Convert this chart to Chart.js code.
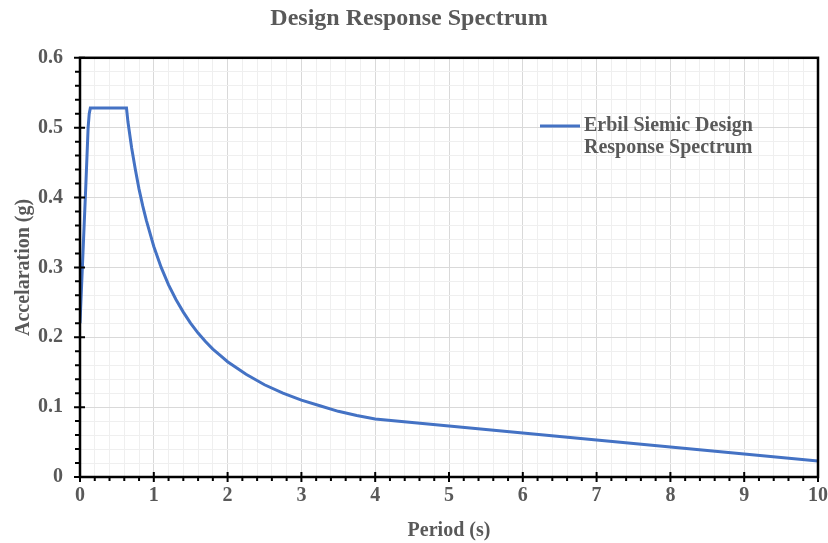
<!DOCTYPE html>
<html>
<head>
<meta charset="utf-8">
<title>Design Response Spectrum</title>
<script src="https://cdn.jsdelivr.net/npm/chart.js@4.4.0/dist/chart.umd.min.js"></script>
<style>
  html, body { margin: 0; padding: 0; background: #fff; }
  #wrap { width: 828px; height: 543px; }
</style>
</head>
<body>
<div id="wrap"><canvas id="spectrum" width="828" height="543"></canvas></div>
<script>
// Spectrum points: period (s) and spectral acceleration (g)
const periods = [0, 0.04, 0.08, 0.11, 0.125, 0.14, 0.63, 0.65, 0.7, 0.75, 0.8, 0.85, 0.9, 1.0, 1.1, 1.2, 1.3, 1.4, 1.5,
                 1.6, 1.7, 1.8, 1.9, 2.0, 2.25, 2.5, 2.75, 3.0, 3.25, 3.5, 3.75, 4.0, 5, 6, 7, 8, 9, 10];
const accels  = [0.22, 0.32, 0.42, 0.50, 0.52, 0.528, 0.528, 0.508, 0.471, 0.44, 0.412, 0.388, 0.367, 0.33, 0.30, 0.275, 0.254, 0.236, 0.22,
                 0.206, 0.194, 0.183, 0.174, 0.165, 0.147, 0.132, 0.12, 0.11, 0.102, 0.094, 0.088, 0.083, 0.073, 0.063, 0.053, 0.043, 0.033, 0.023];
const seriesLabel = ['Erbil Siemic Design', 'Response Spectrum'];
const xTicks = [0, 1, 2, 3, 4, 5, 6, 7, 8, 9, 10];
const yTicks = [0, 0.1, 0.2, 0.3, 0.4, 0.5, 0.6];

const textGray = '#595959';
const serif = '"Liberation Serif", "Times New Roman", serif';

const isMajorX = v => Math.abs(v - Math.round(v)) < 1e-6;
const isMajorY = v => Math.abs(v * 10 - Math.round(v * 10)) < 1e-6;

// Frame, tick marks and the legend box drawn on top of the chart
const framePlugin = {
  id: 'frame',
  afterDraw(chart) {
    const { ctx, chartArea: a, scales } = chart;
    ctx.save();
    ctx.strokeStyle = '#000';
    ctx.lineWidth = 2.5;
    ctx.strokeRect(a.left, a.top, a.right - a.left, a.bottom - a.top);

    ctx.lineWidth = 2;
    ctx.beginPath();
    scales.x.ticks.forEach(t => {
      const px = scales.x.getPixelForValue(t.value);
      const major = isMajorX(t.value);
      ctx.moveTo(px, major ? a.bottom - 5 : a.bottom);
      ctx.lineTo(px, a.bottom + (major ? 5 : 4));
    });
    scales.y.ticks.forEach(t => {
      const py = scales.y.getPixelForValue(t.value);
      const major = isMajorY(t.value);
      ctx.moveTo(major ? a.left + 5 : a.left, py);
      ctx.lineTo(a.left - (major ? 6 : 5), py);
    });
    ctx.stroke();

    // legend
    const ds = chart.data.datasets[0];
    const lx = 540, ly = 126;
    ctx.strokeStyle = ds.borderColor;
    ctx.lineWidth = 3;
    ctx.beginPath();
    ctx.moveTo(lx, ly);
    ctx.lineTo(lx + 40, ly);
    ctx.stroke();
    ctx.fillStyle = textGray;
    ctx.font = 'bold 20px ' + serif;
    ctx.textBaseline = 'middle';
    ctx.textAlign = 'left';
    seriesLabel.forEach((s, i) => ctx.fillText(s, lx + 44, ly + i * 22));
    ctx.restore();
  }
};

const ctx = document.getElementById('spectrum').getContext('2d');
const chart = new Chart(ctx, {
  type: 'line',
  data: {
    datasets: [{
      label: seriesLabel.join(' '),
      data: periods.map((p, i) => ({ x: p, y: accels[i] })),
      borderColor: '#4472C4',
      borderWidth: 3,
      pointRadius: 0,
      fill: false,
      tension: 0
    }]
  },
  options: {
    responsive: false,
    animation: false,
    layout: { padding: { left: 0, right: 10, top: 0, bottom: 0 } },
    plugins: {
      legend: { display: false },
      tooltip: { enabled: false },
      title: {
        display: true,
        text: 'Design Response Spectrum',
        color: textGray,
        font: { family: serif, size: 24, weight: 'bold' },
        padding: { top: 4, bottom: 25 }
      }
    },
    scales: {
      x: {
        type: 'linear',
        min: 0,
        max: 10,
        ticks: {
          stepSize: 0.2,
          autoSkip: false,
          maxTicksLimit: 100,
          maxRotation: 0,
          padding: 7,
          color: textGray,
          font: { family: serif, size: 20, weight: 'bold' },
          callback: v => (isMajorX(v) && xTicks.includes(Math.round(v))) ? String(Math.round(v)) : ''
        },
        grid: {
          drawTicks: false,
          lineWidth: 1,
          color: c => isMajorX(c.tick.value) ? '#d9d9d9' : '#efefef'
        },
        border: { display: false },
        title: {
          display: true,
          text: 'Period (s)',
          color: textGray,
          font: { family: serif, size: 20, weight: 'bold' },
          padding: { top: 0, bottom: 0 }
        },
        afterFit: s => { s.height = 66; s.paddingRight = 0; s.paddingLeft = 0; }
      },
      y: {
        type: 'linear',
        min: 0,
        max: 0.6,
        ticks: {
          stepSize: 0.02,
          autoSkip: false,
          maxTicksLimit: 100,
          padding: 17,
          color: textGray,
          font: { family: serif, size: 20, weight: 'bold' },
          callback: v => {
            if (!isMajorY(v)) return '';
            const r = Math.round(v * 10) / 10;
            return yTicks.includes(r) ? (r === 0 ? '0' : r.toFixed(1)) : '';
          }
        },
        grid: {
          drawTicks: false,
          lineWidth: 1,
          color: c => isMajorY(c.tick.value) ? '#d9d9d9' : '#efefef'
        },
        border: { display: false },
        title: {
          display: true,
          text: 'Accelaration (g)',
          color: textGray,
          font: { family: serif, size: 20, weight: 'bold' },
          padding: { top: 12, bottom: 0 }
        },
        afterFit: s => { s.width = 80; }
      }
    }
  },
  plugins: [framePlugin]
});
</script>
</body>
</html>
